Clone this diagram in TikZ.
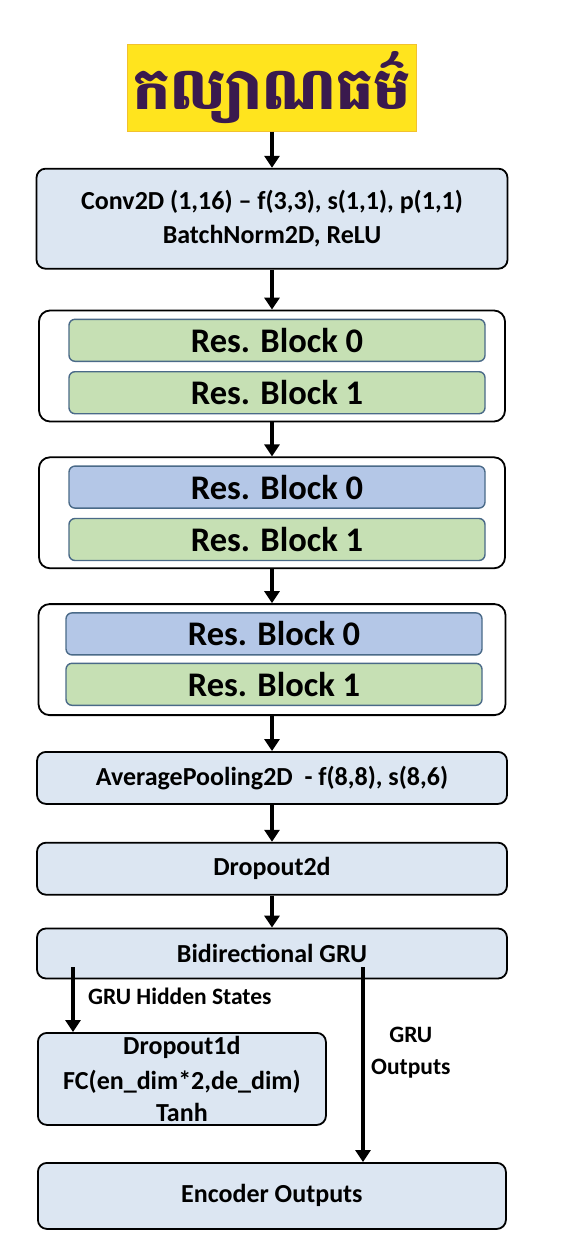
\documentclass[tikz,border=0pt]{standalone}
\usepackage{fontspec}
\setmainfont{Carlito}
\newfontfamily\khmerfont[Script=Khmer]{Battambang}
\usetikzlibrary{arrows.meta, positioning}

\definecolor{layerblue}{HTML}{DCE6F2}
\definecolor{resgreen}{HTML}{C6E0B4}
\definecolor{resblue}{HTML}{B4C7E7}
\definecolor{resedge}{HTML}{4A6A88}
\definecolor{wordyellow}{HTML}{FFE41E}
\definecolor{wordedge}{HTML}{F2C12E}
\definecolor{wordink}{HTML}{3A1A4E}

\begin{document}
\begin{tikzpicture}[
    x=1pt, y=-1pt,
    font=\bfseries,
    layer/.style={rectangle, rounded corners=9pt, draw=black, line width=1.8pt,
                  fill=layerblue, align=center, inner sep=0pt,
                  font=\fontsize{26}{34}\selectfont\bfseries},
    group/.style={rectangle, rounded corners=11pt, draw=black, line width=1.8pt,
                  fill=white, minimum width=466pt, minimum height=111pt},
    res/.style={rectangle, rounded corners=6pt, draw=resedge, line width=1.4pt,
                minimum width=416pt, minimum height=42pt, inner sep=0pt,
                font=\fontsize{34.5}{36}\selectfont\bfseries},
    label/.style={font=\fontsize{23.5}{32}\selectfont\bfseries, align=center},
    flow/.style={-{Triangle[length=12pt, width=15pt]}, line width=3.6pt}]
        \useasboundingbox (0,0) rectangle (564,1244);

        \node[fill=wordyellow, draw=wordedge, line width=0.6pt,
              minimum width=289pt, minimum height=87pt, inner sep=0pt,
              text=wordink] (word) at (272,88)
              {\fontsize{58}{62}\selectfont\khmerfont\bfseries កល្យាណធម៌};

        \node[layer, minimum width=471pt, minimum height=100pt] (conv) [below=36pt of word]
              {Conv2D (1,16) -- f(3,3), s(1,1), p(1,1)\\ BatchNorm2D, ReLU};

        % three groups of residual blocks
        \node[group] (g_1) [below=40pt of conv] {};
        \node[res, fill=resgreen] (g_1a) [below=9pt of g_1.north, xshift=5pt] {Res. Block 0};
        \node[res, fill=resgreen] (g_1b) [below=9pt of g_1a] {Res. Block 1};

        \node[group] (g_2) [below=34pt of g_1] {};
        \node[res, fill=resblue] (g_2a) [below=9pt of g_2.north, xshift=5pt] {Res. Block 0};
        \node[res, fill=resgreen] (g_2b) [below=9pt of g_2a] {Res. Block 1};

        \node[group, minimum width=467pt] (g_3) [below=34pt of g_2] {};
        \node[res, fill=resblue] (g_3a) [below=9pt of g_3.north, xshift=2pt] {Res. Block 0};
        \node[res, fill=resgreen] (g_3b) [below=7pt of g_3a] {Res. Block 1};

        \node[layer, minimum width=470pt, minimum height=52pt] (pool) [below=35pt of g_3]
              {AveragePooling2D\ \ - f(8,8), s(8,6)};

        \node[layer, minimum width=470pt, minimum height=52pt] (drop2) [below=37pt of pool]
              {Dropout2d};

        \node[layer, minimum width=470pt, minimum height=50pt] (gru) [below=32pt of drop2]
              {Bidirectional GRU};

        \node[layer, minimum width=288pt, minimum height=92pt, anchor=north west,
              font=\fontsize{26}{35}\selectfont\bfseries] (fc) at (37,1032)
              {Dropout1d\\ FC(en\_dim*2,de\_dim)\\[-3pt] Tanh};

        \node[layer, minimum width=468pt, minimum height=66pt, anchor=north west] (enc) at (37,1162)
              {Encoder Outputs};

        \coordinate (hid) at (73,967);
        \coordinate (out) at (363,967);

        \draw[flow] (word) -- (conv);
        \draw[flow] (conv) -- (g_1);
        \draw[flow] (g_1) -- (g_2);
        \draw[flow] (g_2) -- (g_3);
        \draw[flow] (g_3) -- (pool);
        \draw[flow] (pool) -- (drop2);
        \draw[flow] (drop2) -- (gru);
        \draw[flow] (hid) -- (hid |- fc.north)
              node[label, pos=0.45, right=10pt] {GRU Hidden States};
        \draw[flow] (out) -- (out |- enc.north)
              node[label, pos=0.44, right=3pt] {GRU\\ Outputs};

    \end{tikzpicture}
\end{document}
